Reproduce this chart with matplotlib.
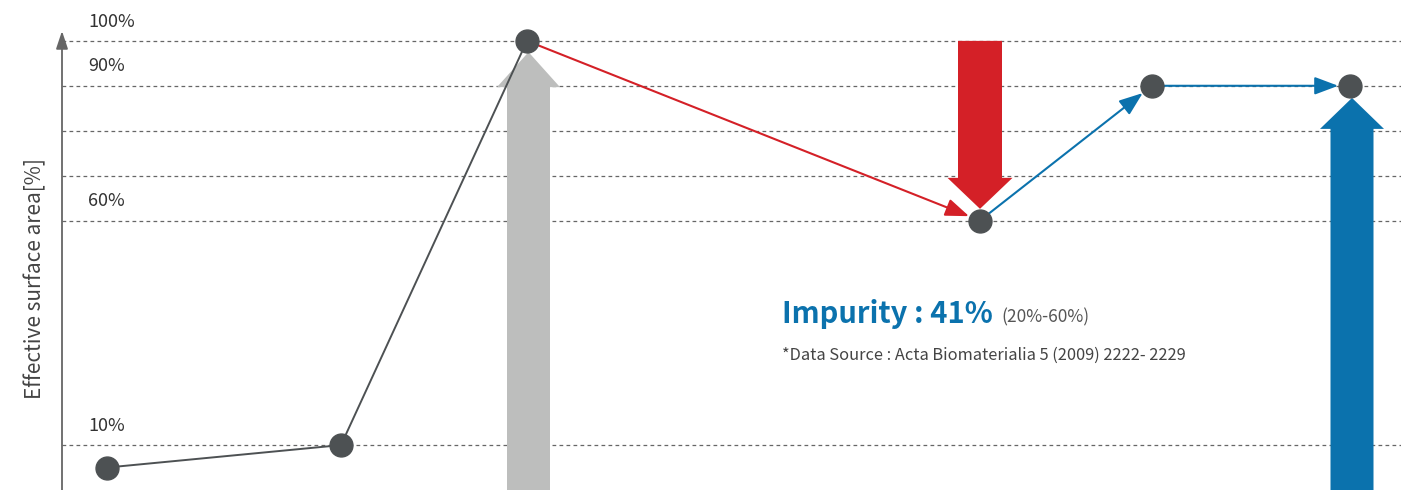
import matplotlib.pyplot as plt

plt.rcParams['font.family'] = ['Noto Sans CJK KR', 'DejaVu Sans']

# stage positions along the process and effective surface area (%)
stage_x = [1.07, 3.41, 5.27, 9.80, 11.52, 13.50]
surface = [5, 10, 100, 60, 90, 90]

grid_levels = [100, 90, 80, 70, 60, 10]
labelled = [100, 90, 60, 10]

dark = '#4d5153'
red = '#d42027'
blue = '#0b72ad'
grey = '#bdbebd'

fig = plt.figure(figsize=(14.01, 4.9), dpi=100)
ax = fig.add_axes([0, 0, 1, 1])
ax.set_xlim(0, 14.01)
ax.set_ylim(0, 109.1)
ax.axis('off')

# dashed guide lines
for g in grid_levels:
    ax.plot([0.62, 14.01], [g, g], color='#666666', lw=0.9, dashes=(3, 2.6), zorder=1)
for g in labelled:
    ax.text(0.88, g + 4.3, f'{g}%', fontsize=13, color='#333333', va='center', ha='left')

# y axis with arrow head
ax.annotate('', xy=(0.62, 102.2), xytext=(0.62, 0),
            arrowprops=dict(arrowstyle='-|>,head_length=0.9,head_width=0.3', color='#666666',
                            lw=1.3, mutation_scale=12, shrinkA=0, shrinkB=0), zorder=2)
ax.text(0.35, 47, 'Effective surface area[%]', rotation=90, fontsize=15, color='#444444',
        va='center', ha='center')

# big block arrows
ax.arrow(stage_x[2] + 0.015, 0, 0, 97.5, width=0.43, head_width=0.63, head_length=7.8,
         length_includes_head=True, color=grey, lw=0, zorder=2)
ax.arrow(stage_x[3], 100, 0, 62.6 - 100, width=0.44, head_width=0.65, head_length=6.9,
         length_includes_head=True, color=red, lw=0, zorder=2)
ax.arrow(stage_x[5] + 0.02, 0, 0, 87.3, width=0.43, head_width=0.64, head_length=6.9,
         length_includes_head=True, color=blue, lw=0, zorder=2)

# process line
ax.plot(stage_x[:3], surface[:3], color=dark, lw=1.4, zorder=3)
seg_colors = [red, blue, blue]
for i, c in zip(range(2, 5), seg_colors):
    ax.annotate('', xy=(stage_x[i + 1], surface[i + 1]), xytext=(stage_x[i], surface[i]),
                arrowprops=dict(arrowstyle='-|>,head_length=1.2,head_width=0.45', color=c,
                                lw=1.5, mutation_scale=12, shrinkA=0, shrinkB=8.5), zorder=3)
ax.plot(stage_x, surface, 'o', color=dark, markersize=16.5, zorder=4)

# annotation text
t = ax.text(7.82, 37.2, 'Impurity : 41%', fontsize=21, fontweight='bold', color=blue,
            va='baseline', ha='left')
fig.canvas.draw()
bb = t.get_window_extent().transformed(ax.transData.inverted())
ax.text(bb.x1 + 0.09, 37.2, '(20%-60%)', fontsize=12.5, color='#555555', va='baseline', ha='left')
ax.text(7.82, 29.0, '*Data Source : Acta Biomaterialia 5 (2009) 2222- 2229', fontsize=11.8,
        color='#444444', va='baseline', ha='left')

fig.savefig('out.png', dpi=100)
